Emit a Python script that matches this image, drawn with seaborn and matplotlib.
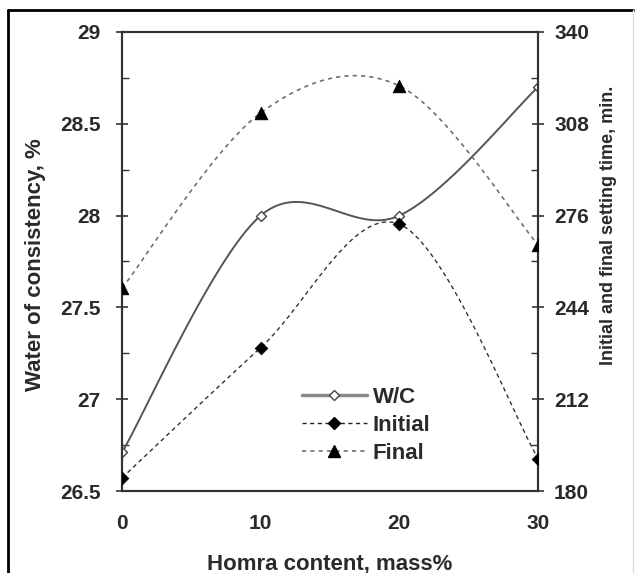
import numpy as np
import pandas as pd
import matplotlib
matplotlib.use("Agg")
import matplotlib.pyplot as plt
from matplotlib.lines import Line2D
from matplotlib.ticker import FixedLocator
import seaborn as sns

# ---- data ----
homra = [0, 10, 20, 30]
wc = [26.71, 28.0, 28.0, 28.70]
initial = [184.6, 230.0, 273.0, 191.3]
final = [250.7, 311.8, 321.2, 265.8]

left_ticks = [26.5, 27, 27.5, 28, 28.5, 29]
left_labels = ["26.5", "27", "27.5", "28", "28.5", "29"]
right_ticks = [180, 212, 244, 276, 308, 340]
x_ticks = [0, 10, 20, 30]

sns.set_theme(style="white")
FONT = ["Liberation Sans", "DejaVu Sans"]
plt.rcParams["font.family"] = FONT
plt.rcParams["font.weight"] = "bold"

TXT = "#2a2a2a"
SP = "#333333"


def smooth(x, y, n=40):
    pts = np.column_stack([x, y]).astype(float)
    out = []
    m = len(pts)
    for i in range(m - 1):
        p0 = pts[i - 1] if i > 0 else pts[i]
        p1 = pts[i]
        p2 = pts[i + 1]
        p3 = pts[i + 2] if i + 2 < m else pts[i + 1]
        c1 = p1 + (p2 - p0) / 6.0
        c2 = p2 - (p3 - p1) / 6.0
        t = np.linspace(0, 1, n)[:, None]
        seg = ((1 - t) ** 3) * p1 + 3 * ((1 - t) ** 2) * t * c1 + 3 * (1 - t) * t ** 2 * c2 + t ** 3 * p2
        out.append(seg if i == 0 else seg[1:])
    s = np.vstack(out)
    return s[:, 0], s[:, 1]


fig = plt.figure(figsize=(6.39, 5.73), dpi=100)
ax = fig.add_axes([0.191, 0.1431, 0.651, 0.8011])
ax2 = ax.twinx()

df_wc = pd.DataFrame({"x": homra, "y": wc})
df_in = pd.DataFrame({"x": homra, "y": initial})
df_fi = pd.DataFrame({"x": homra, "y": final})

# W/C (left axis)
sx, sy = smooth(homra, wc)
ax.plot(sx, sy, color="#555555", lw=1.4, zorder=3)
sns.scatterplot(data=df_wc, x="x", y="y", ax=ax, marker="D", s=26,
                facecolor="white", edgecolor="#444444", linewidth=1.0, zorder=4)

# Initial and Final (right axis)
sx, sy = smooth(homra, initial)
ax2.plot(sx, sy, color="#333333", lw=1.0, ls=(0, (3, 2.5)), zorder=3)
sns.scatterplot(data=df_in, x="x", y="y", ax=ax2, marker="D", s=42,
                color="black", edgecolor="black", zorder=4)
sx, sy = smooth(homra, final)
ax2.plot(sx, sy, color="#707070", lw=1.2, ls=(0, (2.5, 2.5)), zorder=3)
sns.scatterplot(data=df_fi, x="x", y="y", ax=ax2, marker="^", s=80,
                color="black", edgecolor="black", zorder=4)

ax.set_xlim(0, 30)
ax.set_ylim(26.5, 29)
ax2.set_ylim(180, 340)

ax.set_xticks(x_ticks)
ax.set_xticklabels([str(v) for v in x_ticks])
ax.xaxis.set_minor_locator(FixedLocator([5, 15, 25]))
ax.set_yticks(left_ticks)
ax.set_yticklabels(left_labels)
ax.yaxis.set_minor_locator(FixedLocator([26.75, 27.25, 27.75, 28.25, 28.75]))
ax2.set_yticks(right_ticks)
ax2.set_yticklabels([str(v) for v in right_ticks])
ax2.yaxis.set_minor_locator(FixedLocator([196, 228, 260, 292, 324]))

for a in (ax, ax2):
    for s in a.spines.values():
        s.set_color(SP)
        s.set_linewidth(1.5)
    a.grid(False)

ax.tick_params(axis="both", which="major", direction="inout", length=9, width=1.2,
               color=SP, labelsize=15, labelcolor=TXT)
ax.tick_params(axis="y", which="major", pad=11)
ax.tick_params(axis="x", which="major", pad=12)
ax.tick_params(axis="both", which="minor", direction="in", length=5, width=1.0, color=SP)
ax2.tick_params(axis="y", which="major", direction="inout", length=9, width=1.2,
                color=SP, labelsize=15, labelcolor=TXT, pad=7)
ax2.tick_params(axis="y", which="minor", direction="in", length=5, width=1.0, color=SP)

for lab in ax.get_xticklabels() + ax.get_yticklabels() + ax2.get_yticklabels():
    lab.set_fontweight("bold")

ax.set_xlabel("Homra content, mass%", fontsize=16, fontweight="bold", color=TXT)
ax.xaxis.set_label_coords(0.5, (491 - 553) / 459, transform=ax.transAxes)
ax.set_ylabel("Water of consistency, %", fontsize=16, fontweight="bold", color=TXT)
ax.yaxis.set_label_coords((46 - 122) / 416, (491 - 265) / 459, transform=ax.transAxes)
ax2.set_ylabel("Initial and final setting time, min.", fontsize=13, fontweight="bold",
               color=TXT, rotation=90)
ax2.yaxis.set_label_coords((600 - 122) / 416, (491 - 225) / 459, transform=ax.transAxes)

handles = [
    Line2D([], [], color="#888888", lw=2.5, marker="D", markersize=5,
           markerfacecolor="white", markeredgecolor="#444444"),
    Line2D([], [], color="#222222", lw=1.0, ls=(0, (3, 2.5)), marker="D", markersize=6.5,
           markerfacecolor="black", markeredgecolor="black"),
    Line2D([], [], color="#707070", lw=1.2, ls=(0, (2.5, 2.5)), marker="^", markersize=9,
           markerfacecolor="black", markeredgecolor="black"),
]
leg = ax2.legend(handles, ["W/C", "Initial", "Final"], loc="upper left",
                 bbox_to_anchor=(0.433, 0.227), frameon=False, borderpad=0,
                 borderaxespad=0, handlelength=2.9, handletextpad=0.27,
                 labelspacing=0.31, prop={"size": 16, "weight": "bold", "family": FONT})
for t in leg.get_texts():
    t.set_color(TXT)

# figure frame
fig.add_artist(Line2D([8 / 639, 8 / 639], [0, 1 - 10 / 573], color="black", lw=2,
                      transform=fig.transFigure))
fig.add_artist(Line2D([8 / 639, 633 / 639], [1 - 10 / 573, 1 - 10 / 573], color="black", lw=2,
                      transform=fig.transFigure))
fig.add_artist(Line2D([633 / 639, 633 / 639], [0, 1 - 10 / 573], color="#dddddd", lw=1,
                      transform=fig.transFigure))

fig.savefig("out.png", dpi=100)
